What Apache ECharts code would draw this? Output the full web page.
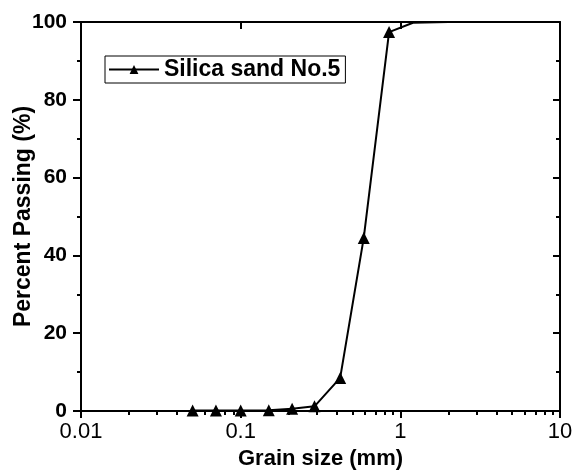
<!DOCTYPE html>
<html>
<head>
<meta charset="utf-8">
<script src="https://cdn.jsdelivr.net/npm/echarts@6/dist/echarts.min.js"></script>
<style>
  html, body { margin: 0; padding: 0; background: #fff; }
  #chart { width: 574px; height: 470px; }
</style>
</head>
<body>
<div id="chart"></div>
<script>
// sieve data
const seriesName = 'Silica sand No.5'
const grainSize = [0.05, 0.07, 0.1, 0.15, 0.21, 0.29, 0.42, 0.59, 0.85, 1.2, 2.0]
const percentPassing = [0.1, 0.1, 0.1, 0.2, 0.6, 1.2, 8.5, 44.5, 97.4, 99.8, 100]
const hiddenFrom = 9 // points lying on the top frame, no marker shown there
const xMinorTicks = [0.02, 0.03, 0.04, 0.05, 0.06, 0.07, 0.08, 0.09,
  0.2, 0.3, 0.4, 0.5, 0.6, 0.7, 0.8, 0.9,
  2, 3, 4, 5, 6, 7, 8, 9]

const font = 'Arial, "Liberation Sans", Helvetica, sans-serif'
const black = '#000'

const myChart = echarts.init(document.getElementById('chart'))

const logAxisBase = {
  type: 'log',
  logBase: 10,
  min: 0.01,
  max: 10,
  gridIndex: 0,
  splitLine: { show: false },
  axisLine: { show: true, onZero: false, lineStyle: { color: black, width: 2 } }
}

const option = {
  backgroundColor: '#fff',
  animation: false,
  grid: { left: 81, right: 14, top: 22, bottom: 59, containLabel: false, outerBoundsMode: 'none' },
  legend: {
    left: 105,
    top: 56,
    padding: [2, 5, 2, 3],
    borderColor: black,
    borderWidth: 1,
    borderRadius: 0,
    itemWidth: 50,
    itemHeight: 11,
    itemGap: 5,
    textStyle: { fontFamily: font, fontSize: 23, fontWeight: 'bold', color: black },
    data: [seriesName]
  },
  xAxis: [
    Object.assign({}, logAxisBase, {
      position: 'bottom',
      name: 'Grain size (mm)',
      nameLocation: 'middle',
      nameGap: 34,
      nameTextStyle: { fontFamily: font, fontSize: 22, fontWeight: 'bold', color: black },
      axisTick: { show: true, inside: false, length: 7, lineStyle: { color: black, width: 2 } },
      axisLabel: { fontFamily: font, fontSize: 22, color: black, margin: 10,
        formatter: v => String(v) }
    }),
    Object.assign({}, logAxisBase, {
      position: 'bottom',
      axisLine: { show: false },
      axisTick: { show: true, inside: false, length: 4, customValues: xMinorTicks,
        lineStyle: { color: black, width: 2 } },
      axisLabel: { show: false }
    }),
    Object.assign({}, logAxisBase, {
      position: 'top',
      axisTick: { show: true, inside: true, length: 7, lineStyle: { color: black, width: 2 } },
      axisLabel: { show: false }
    }),
    Object.assign({}, logAxisBase, {
      position: 'top',
      axisLine: { show: false },
      axisTick: { show: true, inside: true, length: 4, customValues: xMinorTicks,
        lineStyle: { color: black, width: 2 } },
      axisLabel: { show: false }
    })
  ],
  yAxis: [
    {
      type: 'value',
      min: 0,
      max: 100,
      interval: 20,
      position: 'left',
      name: 'Percent Passing (%)',
      nameLocation: 'middle',
      nameGap: 46,
      nameMoveOverlap: false,
      nameTextStyle: { fontFamily: font, fontSize: 23, fontWeight: 'bold', color: black },
      splitLine: { show: false },
      axisLine: { show: true, onZero: false, lineStyle: { color: black, width: 2 } },
      axisTick: { show: true, inside: false, length: 8, lineStyle: { color: black, width: 2 } },
      minorTick: { show: true, splitNumber: 2, length: 4, lineStyle: { color: black, width: 2 } },
      axisLabel: { fontFamily: font, fontSize: 21, fontWeight: 'bold', color: black, margin: 14 }
    },
    {
      type: 'value',
      min: 0,
      max: 100,
      interval: 20,
      position: 'right',
      splitLine: { show: false },
      axisLine: { show: true, onZero: false, lineStyle: { color: black, width: 2 } },
      axisTick: { show: true, inside: true, length: 7, lineStyle: { color: black, width: 2 } },
      minorTick: { show: true, splitNumber: 2, length: 4, lineStyle: { color: black, width: 2 } },
      axisLabel: { show: false }
    }
  ],
  series: [
    {
      name: seriesName,
      type: 'line',
      xAxisIndex: 0,
      yAxisIndex: 0,
      symbol: 'triangle',
      symbolSize: 12,
      showAllSymbol: true,
      clip: false,
      itemStyle: { color: black },
      lineStyle: { color: black, width: 2 },
      data: grainSize.map((g, i) => {
        const item = { value: [g, percentPassing[i]] }
        if (i >= hiddenFrom) item.symbolSize = 0
        return item
      })
    }
  ]
}

myChart.setOption(option)
window.addEventListener('resize', () => myChart.resize())
</script>
</body>
</html>
